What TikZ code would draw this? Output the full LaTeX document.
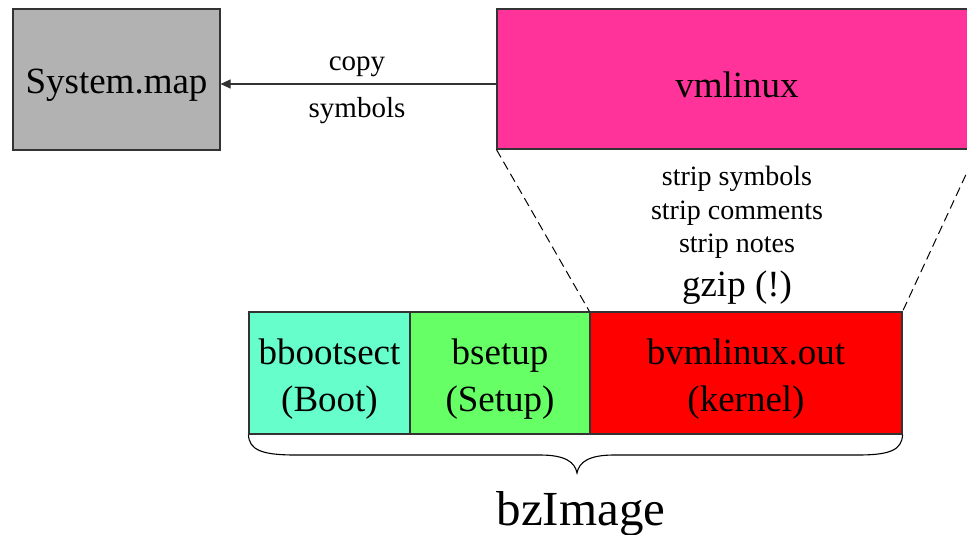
\documentclass[tikz,border=0pt]{standalone}
\usepackage{fontspec}
\setmainfont{Liberation Serif}
\usetikzlibrary{arrows.meta}
\definecolor{linegray}{HTML}{333333}
\definecolor{mapgray}{HTML}{B2B2B2}
\definecolor{vmpink}{HTML}{FF3399}
\definecolor{bootaqua}{HTML}{66FFCC}
\definecolor{setupgreen}{HTML}{66FF66}
\definecolor{kernred}{HTML}{FF0000}
\tikzset{
  box/.style={draw=linegray, line width=1.1pt, inner sep=0pt},
  bigtxt/.style={inner sep=0pt, align=center, font=\fontsize{37}{47}\selectfont},
  small/.style={inner sep=0pt, font=\fontsize{29}{34}\selectfont},
  smaller/.style={inner sep=0pt, font=\fontsize{28}{34}\selectfont},
  dashline/.style={draw=black, line width=1pt, dash pattern=on 9pt off 5pt},
}
\begin{document}
\begin{tikzpicture}[x=1pt,y=-1pt]
\clip (0,0) rectangle (967,535);
\fill[white] (0,0) rectangle (967,535);
% top boxes
\node[box, fill=mapgray, minimum width=207pt, minimum height=141pt] (sysmap) at (116.5,79.5) {};
\node[bigtxt] (sysmaptxt) at (116.5,85) {System.map};
\node[box, fill=vmpink, minimum width=480pt, minimum height=140pt] (vmlinux) at (737,79) {};
\node[bigtxt] (vmtxt) at (737,85) {vmlinux};
% bottom boxes
\node[box, fill=bootaqua, minimum width=161pt, minimum height=122pt] (boot) at (329.5,373) {};
\node[box, fill=setupgreen, minimum width=180pt, minimum height=122pt] (setup) at (500,373) {};
\node[box, fill=kernred, minimum width=312pt, minimum height=122pt] (kernel) at (746,373) {};
\node[bigtxt] (boottxt) at (329.5,379) {bbootsect\\(Boot)};
\node[bigtxt] (setuptxt) at (500,379) {bsetup\\(Setup)};
\node[bigtxt] (kerntxt) at (746,379) {bvmlinux.out\\(kernel)};
% arrow copy symbols
\coordinate (arrstart) at (vmlinux.west |- 0,84);
\coordinate (arrend) at (sysmap.east |- 0,84);
\draw[linegray, line width=1.1pt, -{Triangle[length=10pt,width=9pt]}] (arrstart) -- (arrend);
\node[small] (copy) at (357,67) {copy};
\node[small] (symbols) at (357,111) {symbols};
% strip text
\node[smaller] (s1) at (737,178.5) {strip symbols};
\node[smaller] (s2) at (737,213) {strip comments};
\node[smaller] (s3) at (737,246) {strip notes};
\node[inner sep=0pt, font=\fontsize{37}{44}\selectfont] (gz) at (737,288) {gzip (!)};
% dashed lines
\draw[dashline] (vmlinux.south west) -- (kernel.north west);
\draw[dashline] (vmlinux.south east) -- (kernel.north east);
% brace
\coordinate (bl) at (boot.south west);
\coordinate (br) at (kernel.south east);
\coordinate (tip) at (577,473);
\draw[black, line width=1.1pt]
  (bl) .. controls (249,450) and (262,455) .. (295,455)
  -- (540,455) .. controls (565,455) and (575,462) .. (tip)
  .. controls (579,462) and (589,455) .. (614,455)
  -- (858,455) .. controls (890,455) and (902,450) .. (br);
\node[inner sep=0pt, font=\fontsize{49}{56}\selectfont] (bz) at (581,514) {bzImage};
\end{tikzpicture}
\end{document}
